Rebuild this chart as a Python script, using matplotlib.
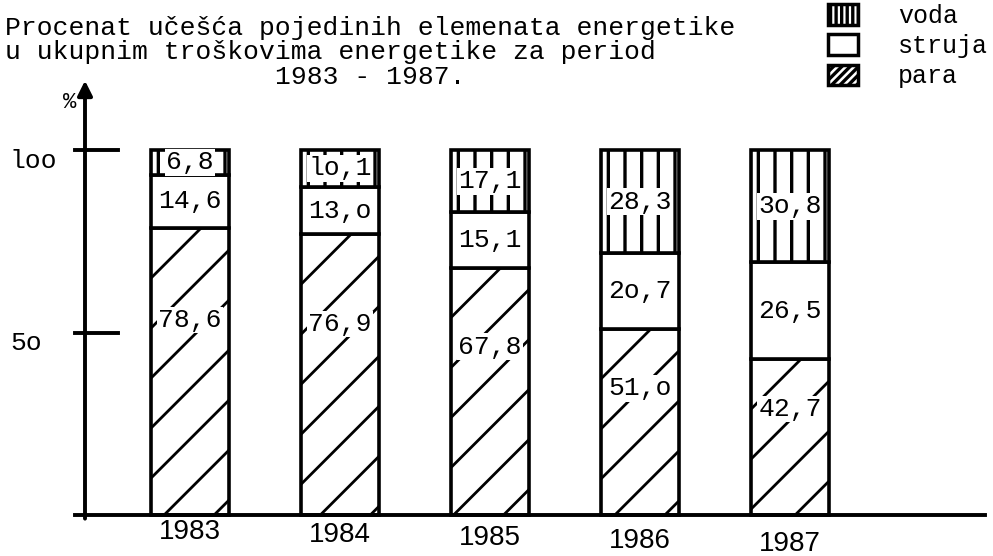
import matplotlib
matplotlib.use("Agg")
import matplotlib.pyplot as plt
from matplotlib.patches import Patch
import numpy as np

# ---- data ----
years = ["1983", "1984", "1985", "1986", "1987"]
para = [78.6, 76.9, 67.8, 51.0, 42.7]
struja = [14.6, 13.0, 15.1, 20.7, 26.5]
voda = [6.8, 10.1, 17.1, 28.3, 30.8]
para_labels = ["78,6", "76,9", "67,8", "51,o", "42,7"]
struja_labels = ["14,6", "13,o", "15,1", "2o,7", "26,5"]
voda_labels = ["6,8", "lo,1", "17,1", "28,3", "3o,8"]
ytick_values = [50, 100]
ytick_labels = ["5o", "loo"]
title_lines = ["Procenat učešća pojedinih elemenata energetike",
               "u ukupnim troškovima energetike za period"]
title_years = "1983 - 1987."
legend_names = ["voda", "struja", "para"]

plt.rcParams['font.family'] = ['Liberation Mono', 'DejaVu Sans Mono']
plt.rcParams['hatch.linewidth'] = 2.4
plt.rcParams['hatch.color'] = 'black'

W, H = 993, 556
fig = plt.figure(figsize=(W / 100, H / 100), dpi=100)
ax = fig.add_axes([0, 0, 1, 1])
# pixel mapping: x_px = 190 + 150*x ; y_px = 515 - 3.65*v
ax.set_xlim(-190 / 150, (W - 190) / 150)
ax.set_ylim((515 - H) / 3.65, 515 / 3.65)
ax.axis('off')

x = np.arange(len(years))
para_a = np.array(para)
struja_a = np.array(struja)
voda_a = np.array(voda)
bw = 0.52
lw = 2.6
fs = 19

bars_p = ax.bar(x, para_a, width=bw, facecolor='white', edgecolor='black', linewidth=lw, zorder=3)
bars_s = ax.bar(x, struja_a, bottom=para_a, width=bw, facecolor='white', edgecolor='black', linewidth=lw, zorder=3)
bars_v = ax.bar(x, voda_a, bottom=para_a + struja_a, width=bw, facecolor='white', edgecolor='black',
                linewidth=lw, hatch='|', zorder=3)

# sparse diagonal hatching for "para", clipped to each bar
slope = 150 / 3.65  # 45 degrees in pixel space
step = 50 / 150
for rect, h in zip(bars_p, para_a):
    x0 = rect.get_x()
    x1 = x0 + rect.get_width()
    c = x0 - h / slope
    while c < x1:
        ln, = ax.plot([c, c + (h + 5) / slope], [0, h + 5], color='black', lw=2.0, zorder=3.5)
        ln.set_clip_path(rect)
        c += step

# segment labels
for i in range(len(years)):
    ax.text(x[i], para_a[i] * 0.68, para_labels[i], ha='center', va='center', fontsize=fs, zorder=5,
            bbox=dict(boxstyle='square,pad=0.05', fc='white', ec='none'))
    ax.text(x[i], para_a[i] + struja_a[i] / 2, struja_labels[i], ha='center', va='center', fontsize=fs, zorder=5)
    ax.text(x[i], para_a[i] + struja_a[i] + voda_a[i] / 2, voda_labels[i], ha='center', va='center',
            fontsize=fs, zorder=5, bbox=dict(boxstyle='square,pad=0.05', fc='white', ec='none'))

# axes
ax_x = (85 - 190) / 150
ax.annotate('', xy=(ax_x, 119), xytext=(ax_x, -1),
            arrowprops=dict(arrowstyle='-|>', lw=2.8, color='black', mutation_scale=22, shrinkA=0, shrinkB=0))
ax.plot([(75 - 190) / 150, (985 - 190) / 150], [0, 0], color='black', lw=2.8, zorder=4)
for v, lab in zip(ytick_values, ytick_labels):
    ax.plot([(75 - 190) / 150, (118 - 190) / 150], [v, v], color='black', lw=2.8)
    ax.text((10 - 190) / 150, v - 3, lab, ha='left', va='center', fontsize=fs)
ax.text((70 - 190) / 150, 113, '%', ha='center', va='center', fontsize=16)

for i, y in enumerate(years):
    ax.text(x[i], -4.6 - 0.85 * i, y, ha='center', va='center', fontsize=20,
            family=['Liberation Sans', 'DejaVu Sans'])

# title
ax.text(5 / W, 1 - 28 / H, title_lines[0], transform=ax.transAxes, ha='left', va='center', fontsize=fs)
ax.text(5 / W, 1 - 52 / H, title_lines[1], transform=ax.transAxes, ha='left', va='center', fontsize=fs)
ax.text(370 / W, 1 - 77 / H, title_years, transform=ax.transAxes, ha='center', va='center', fontsize=fs)

# legend
handles = [Patch(facecolor='white', edgecolor='black', hatch='|||', linewidth=2.5),
           Patch(facecolor='white', edgecolor='black', linewidth=2.5),
           Patch(facecolor='white', edgecolor='black', hatch='////', linewidth=2.5)]
ax.legend(handles, legend_names, loc='upper left', bbox_to_anchor=(828 / W, 1 - 4 / H),
          frameon=False, fontsize=18, handlelength=1.2, handleheight=0.9,
          handletextpad=1.6, labelspacing=0.25, borderaxespad=0, borderpad=0)

fig.savefig('out.png', dpi=100, facecolor='white')
